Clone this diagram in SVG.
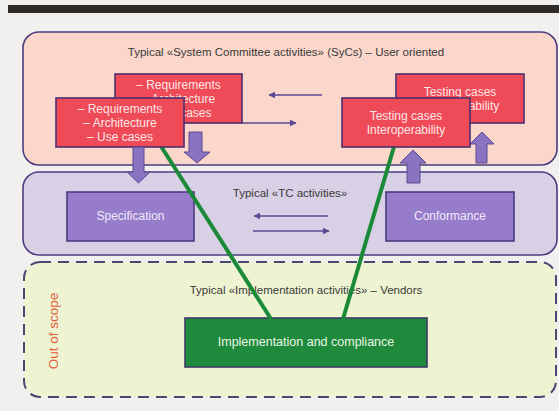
<svg xmlns="http://www.w3.org/2000/svg" width="559" height="411" viewBox="0 0 559 411">
<defs>
<style>
text{font-family:"Liberation Sans",Arial,sans-serif;font-size:11.5px;}
.title{fill:#3a3a3a;text-anchor:middle;}
.oos{fill:#e2603f;text-anchor:middle;font-size:13.5px;}
.panel{stroke:#4b3b80;stroke-width:1.6;}
.red rect{fill:#ef4a58;stroke:#4b3070;stroke-width:1.6;}
.red text{fill:#fde6e6;text-anchor:middle;font-size:12px;}
.purp rect{fill:#967ccb;stroke:#4b3b80;stroke-width:1.6;}
.purp text{fill:#eee8f8;text-anchor:middle;font-size:12px;}
.grn rect{fill:#1f8a3c;stroke:#3d3a6a;stroke-width:1.6;}
.grn text{fill:#e8f6e4;text-anchor:middle;font-size:12.5px;}
.blk{fill:#8a74c2;stroke:#5b4a94;stroke-width:1;}
.thin{stroke:#5a4894;stroke-width:1.5;fill:none;}
.gline{stroke:#1a8a38;stroke-width:4;}
</style>
<marker id="ah" viewBox="0 0 10 10" refX="9" refY="5" markerWidth="7" markerHeight="7" markerUnits="userSpaceOnUse" orient="auto">
<path d="M0,0 L10,5 L0,10 z" fill="#5a4894"/>
</marker>
</defs>
<rect x="0" y="0" width="559" height="411" fill="#f1f0ee"/>
<rect x="8" y="5" width="551" height="8" fill="#2e2a28"/>

<g id="panel-sycs">
<rect class="panel" x="23" y="32" width="534" height="133" rx="16" fill="#fbd6ca"/>
<text class="title" x="286" y="56">Typical «System Committee activities» (SyCs) – User oriented</text>
</g>
<g id="panel-tc">
<rect class="panel" x="23" y="172" width="534" height="83" rx="16" fill="#d8d0e5"/>
<text class="title" x="290" y="197">Typical «TC activities»</text>
</g>
<g id="panel-impl">
<rect x="24" y="262" width="532" height="135" rx="16" fill="#eef3d2" stroke="#4a4872" stroke-width="2" stroke-dasharray="11,7"/>
<text class="title" x="306" y="294">Typical «Implementation activities» – Vendors</text>
<text class="oos" x="58" y="331" transform="rotate(-90 58 331)">Out of scope</text>
</g>

<g id="spec" class="purp">
<rect x="67" y="192" width="127" height="49"/>
<text x="130.5" y="220">Specification</text>
</g>
<g id="conf" class="purp">
<rect x="386" y="192" width="128" height="49"/>
<text x="450" y="220">Conformance</text>
</g>
<g id="impl" class="grn">
<rect x="185" y="318" width="242" height="49"/>
<text x="306" y="346">Implementation and compliance</text>
</g>

<g id="connectors">
<path class="blk" d="M189,132 H202 V152 H210 L197,163 L184,152 H189 Z"/>
<path class="blk" d="M476,163 H487 V144 H494 L482,132 L470,144 H476 Z"/>
<path class="blk" d="M407,183 H420 V163 H426 L413,150 L400,163 H407 Z"/>
<line class="thin" x1="322" y1="95" x2="269" y2="95" marker-end="url(#ah)"/>
<line class="thin" x1="242" y1="123" x2="296" y2="123" marker-end="url(#ah)"/>
<line class="thin" x1="328" y1="216" x2="254" y2="216" marker-end="url(#ah)"/>
<line class="thin" x1="253" y1="231" x2="329" y2="231" marker-end="url(#ah)"/>
<line class="gline" x1="157" y1="140" x2="271" y2="319"/>
<line class="gline" x1="396" y1="140" x2="343" y2="319"/>
</g>

<g id="req-back" class="red">
<rect x="115" y="74" width="127" height="49"/>
<text x="178.5" y="89">– Requirements</text>
<text x="178.5" y="103">– Architecture</text>
<text x="178.5" y="117">– Use cases</text>
</g>
<g id="test-back" class="red">
<rect x="396" y="74" width="128" height="49"/>
<text x="460" y="96">Testing cases</text>
<text x="460" y="110">Interoperability</text>
</g>
<g id="req-front" class="red">
<rect x="56" y="98" width="128" height="49"/>
<text x="120" y="113">– Requirements</text>
<text x="120" y="127">– Architecture</text>
<text x="120" y="141">– Use cases</text>
</g>
<g id="test-front" class="red">
<rect x="342" y="98" width="128" height="49"/>
<text x="406" y="120">Testing cases</text>
<text x="406" y="134">Interoperability</text>
</g>
<g id="down-arrow-front">
<path class="blk" d="M133,147 H144 V172 H150 L138.5,183 L127,172 H133 Z"/>
</g>
</svg>
